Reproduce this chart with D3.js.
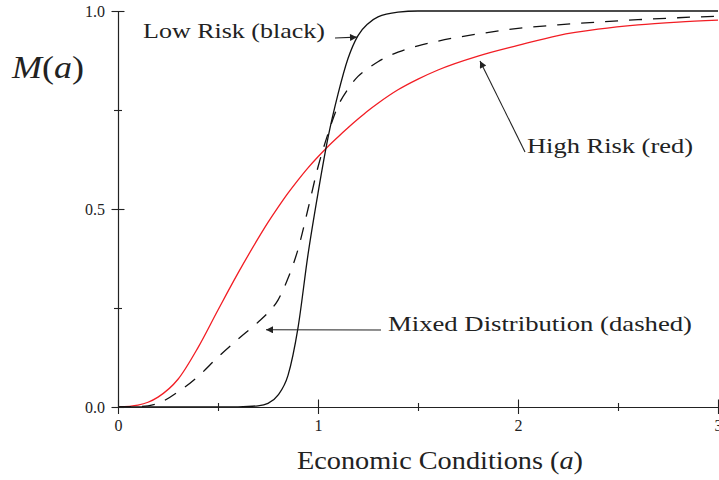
<!DOCTYPE html>
<html>
<head>
<meta charset="utf-8">
<script src="https://cdn.jsdelivr.net/npm/d3@7"></script>
<style>
  html, body { margin: 0; padding: 0; background: #fff; }
  svg { display: block; }
  text { font-family: "Liberation Serif", "DejaVu Serif", serif; fill: #222; }
</style>
</head>
<body>
<svg id="chart" width="719" height="480"></svg>
<script>
// Economic conditions a (shared grid for all three curves)
const aValues = [0, 0.1, 0.15, 0.2, 0.3, 0.4, 0.5, 0.6, 0.7, 0.75, 0.8, 0.85, 0.9, 0.95,
  1.0, 1.05, 1.1, 1.15, 1.2, 1.25, 1.3, 1.4, 1.5, 1.6, 1.8, 2.0, 2.2, 2.4, 2.6, 2.8, 3.0];

// M(a) for the low-risk group (black)
const lowRisk = [0, 0, 0, 0, 0, 0, 0, 0.0005, 0.003, 0.009, 0.03, 0.08, 0.2, 0.385,
  0.54, 0.68, 0.79, 0.88, 0.938, 0.968, 0.985, 0.997, 1.0, 1.0, 1.0, 1.0, 1.0, 1.0, 1.0, 1.0, 1.0];

// M(a) for the high-risk group (red)
const highRisk = [0, 0.005, 0.012, 0.025, 0.07, 0.15, 0.245, 0.338, 0.425, 0.466, 0.504, 0.54, 0.573, 0.604,
  0.632, 0.658, 0.682, 0.705, 0.727, 0.748, 0.767, 0.801, 0.828, 0.851, 0.886, 0.913, 0.938, 0.954, 0.965, 0.972, 0.977];

// M(a) for the mixed distribution (dashed)
const mixed = [0, 0.001, 0.003, 0.009, 0.038, 0.077, 0.126, 0.171, 0.214, 0.238, 0.27, 0.325, 0.398, 0.5,
  0.606, 0.69, 0.76, 0.803, 0.835, 0.855, 0.872, 0.896, 0.912, 0.924, 0.942, 0.956, 0.965, 0.972, 0.978, 0.983, 0.987];

const xTicks = [0, 0.5, 1, 1.5, 2, 2.5, 3];
const xTickLabels = ["0", "", "1", "", "2", "", "3"];
const yTicks = [0, 0.25, 0.5, 0.75, 1];
const yTickLabels = ["0.0", "", "0.5", "", "1.0"];

const svg = d3.select("#chart");
const x = d3.scaleLinear().domain([0, 3]).range([118, 718]);
const y = d3.scaleLinear().domain([0, 1]).range([407, 11]);

// Curves
const line = d3.line()
  .x(d => x(d[0]))
  .y(d => y(d[1]))
  .curve(d3.curveMonotoneX);

const pairs = vals => aValues.map((a, i) => [a, vals[i]]);

svg.append("path").datum(pairs(highRisk))
  .attr("d", line).attr("fill", "none")
  .attr("stroke", "#f21d24").attr("stroke-width", 1.3);

svg.append("path").datum(pairs(mixed))
  .attr("d", line).attr("fill", "none")
  .attr("stroke", "#111").attr("stroke-width", 1.3)
  .attr("stroke-dasharray", "13,11");

svg.append("path").datum(pairs(lowRisk))
  .attr("d", line).attr("fill", "none")
  .attr("stroke", "#111").attr("stroke-width", 1.3);

// Axes: ticks cross the axis line on both sides
const xAxis = svg.append("g")
  .attr("transform", `translate(0,${y(0)})`)
  .call(d3.axisBottom(x).tickValues(xTicks).tickSize(0)
    .tickFormat((d, i) => xTickLabels[i]));
xAxis.select(".domain").attr("stroke", "#222").attr("stroke-width", 1.2);
xAxis.selectAll(".tick line")
  .attr("y1", (d, i) => xTickLabels[i] ? -7.5 : -4)
  .attr("y2", (d, i) => xTickLabels[i] ? 7 : 4)
  .attr("stroke", "#222").attr("stroke-width", 1.1);
xAxis.selectAll(".tick text")
  .attr("y", 13).attr("dy", "0.71em")
  .style("font-family", "Liberation Serif, serif").style("font-size", "16px").attr("fill", "#222");

const yAxis = svg.append("g")
  .attr("transform", `translate(${x(0)},0)`)
  .call(d3.axisLeft(y).tickValues(yTicks).tickSize(0)
    .tickFormat((d, i) => yTickLabels[i]));
yAxis.select(".domain").attr("stroke", "#222").attr("stroke-width", 1.2);
yAxis.selectAll(".tick line")
  .attr("x1", (d, i) => yTickLabels[i] ? -6.5 : -4)
  .attr("x2", (d, i) => yTickLabels[i] ? 6.5 : 4)
  .attr("stroke", "#222").attr("stroke-width", 1.1);
yAxis.selectAll(".tick text")
  .attr("x", -13)
  .style("font-family", "Liberation Serif, serif").style("font-size", "16px").attr("fill", "#222");

// Axis titles
const yTitle = svg.append("text").attr("x", 12).attr("y", 78)
  .style("font-size", "32px")
  .attr("textLength", 72).attr("lengthAdjust", "spacingAndGlyphs");
yTitle.append("tspan").style("font-style", "italic").text("M");
yTitle.append("tspan").text("(");
yTitle.append("tspan").style("font-style", "italic").text("a");
yTitle.append("tspan").text(")");

const xTitle = svg.append("text").attr("x", 297).attr("y", 469)
  .style("font-size", "26px")
  .attr("textLength", 286).attr("lengthAdjust", "spacingAndGlyphs");
xTitle.append("tspan").text("Economic Conditions (");
xTitle.append("tspan").style("font-style", "italic").text("a");
xTitle.append("tspan").text(")");

// Annotations with arrows
const defs = svg.append("defs");
defs.append("marker")
  .attr("id", "arrow").attr("viewBox", "0 0 10 10")
  .attr("refX", 10).attr("refY", 5)
  .attr("markerWidth", 10).attr("markerHeight", 7)
  .attr("markerUnits", "userSpaceOnUse")
  .attr("orient", "auto")
  .append("path").attr("d", "M0,0 L10,5 L0,10 Z").attr("fill", "#222");

function annotate(label, tx, ty, width, fromX, fromY, toA, toM) {
  svg.append("text").attr("x", tx).attr("y", ty).style("font-size", "22px")
    .attr("textLength", width).attr("lengthAdjust", "spacingAndGlyphs")
    .text(label);
  svg.append("line")
    .attr("x1", fromX).attr("y1", fromY)
    .attr("x2", x(toA)).attr("y2", y(toM))
    .attr("stroke", "#222").attr("stroke-width", 1.1)
    .attr("marker-end", "url(#arrow)");
}

annotate("Low Risk (black)", 143, 38, 182, 335, 38, 1.195, 0.934);
annotate("High Risk (red)", 527, 153, 166, 525, 152, 1.81, 0.874);
annotate("Mixed Distribution (dashed)", 388, 331, 304, 381, 330, 0.74, 0.195);
</script>
</body>
</html>
